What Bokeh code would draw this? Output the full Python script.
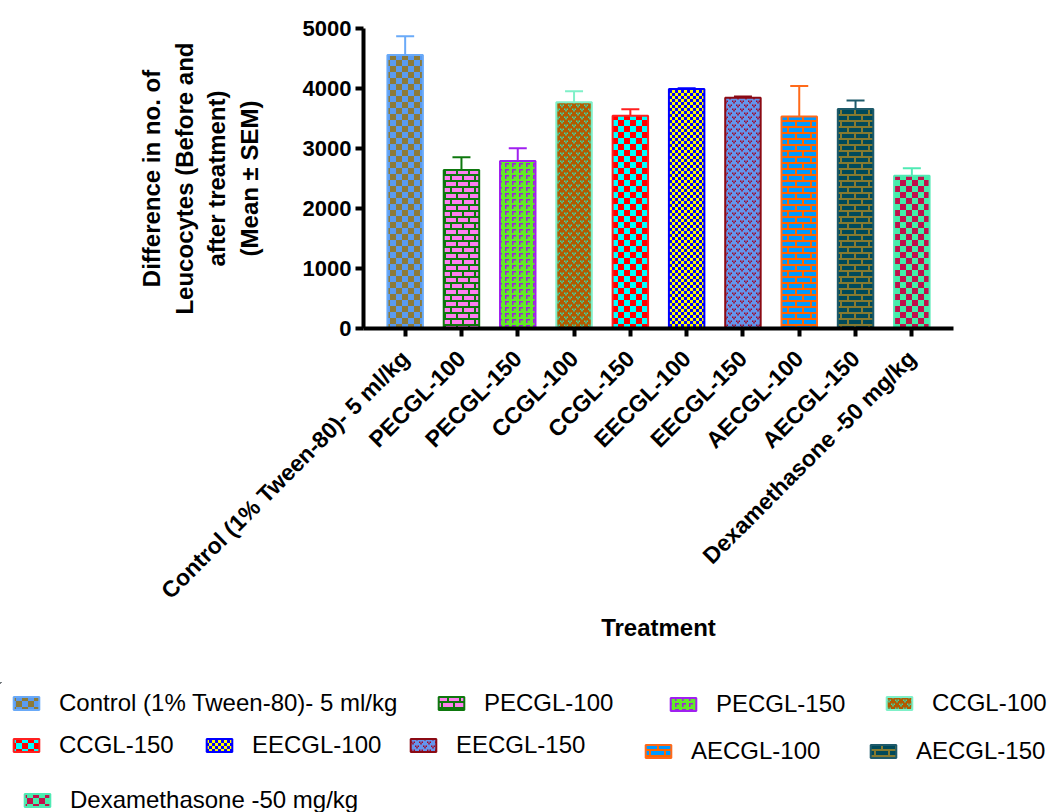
import math
from bokeh.plotting import figure
from bokeh.models import (ColumnDataSource, CanvasTexture, Legend, LegendItem,
                          Whisker, TeeHead, FactorRange, FixedTicker, Range1d)
from bokeh.embed import file_html
from bokeh.resources import INLINE

# ---------------- data ----------------
treatments = ["Control (1% Tween-80)- 5 ml/kg", "PECGL-100", "PECGL-150",
              "CCGL-100", "CCGL-150", "EECGL-100", "EECGL-150",
              "AECGL-100", "AECGL-150", "Dexamethasone -50 mg/kg"]
means = [4560, 2640, 2790, 3770, 3545, 3990, 3845, 3535, 3660, 2545]
sems = [310, 215, 215, 185, 110, 15, 20, 505, 140, 125]
y_ticks = [0, 1000, 2000, 3000, 4000, 5000]

# ---------------- styles ----------------
fill_cols = ["#5A9BF0", "#FF80F0", "#62EA28", "#B35A00", "#FF0000",
             "#0000FF", "#6495ED", "#0099FF", "#004A5A", "#44EEAA"]
hatch_cols = ["#8C7A38", "#0E780E", "#A21CE0", "#3CD8A8", "#00FFFF",
              "#FFFF00", "#A00828", "#FF6600", "#857A30", "#C0104C"]
line_cols = ["#6AAAF8", "#0E780E", "#A020F0", "#7FF0C8", "#FF2020",
             "#0000FF", "#8B0A14", "#FF6A1A", "#1E5A6A", "#50EAB4"]
patterns = ["checker", "brick", "hook", "heart", "checker",
            "checker", "heart", "brick", "brick", "checker"]
tile_sizes = ["6", "12", "7", "8", "6", "3", "8", "15", "14", "6"]
# legend placement (page pixels): glyph left and row centre
legend_gx = [10, 435, 667, 883, 10, 203, 407, 642, 867, 21]
legend_cy = [703, 703, 704, 703, 745, 745, 745, 751, 751, 800]

JS = {
    "checker": """
        const c = SIZE;
        ctx.canvas.width = 2 * c; ctx.canvas.height = 2 * c;
        ctx.fillStyle = "COLOR";
        ctx.fillRect(0, 0, c, c);
        ctx.fillRect(c, c, c, c);
    """,
    "brick": """
        const L = SIZE, rh = 6, lw = 2;
        ctx.canvas.width = L; ctx.canvas.height = 2 * rh;
        ctx.fillStyle = "COLOR";
        ctx.fillRect(0, 0, L, lw);
        ctx.fillRect(0, rh, L, lw);
        ctx.fillRect(0, 0, lw, rh);
        ctx.fillRect(Math.floor(L / 2), rh, lw, rh);
    """,
    "hook": """
        const n = SIZE;
        ctx.canvas.width = n; ctx.canvas.height = n - 1;
        ctx.fillStyle = "COLOR";
        ctx.fillRect(1, 1, 4, 1.5);
        ctx.fillRect(1, 1, 1.5, 4);
    """,
    "heart": """
        const n = SIZE;
        ctx.canvas.width = n; ctx.canvas.height = n;
        ctx.fillStyle = "COLOR";
        const m = (x, y) => {
            ctx.fillRect(x, y, 1.5, 1.5);
            ctx.fillRect(x + 2.5, y, 1.5, 1.5);
            ctx.fillRect(x + 1.25, y + 1.5, 1.5, 1.5);
        };
        m(0, 0.5);
        m(n / 2, n / 2 + 0.5);
    """,
}

def texture(i):
    code = JS[patterns[i]].replace("COLOR", hatch_cols[i]).replace("SIZE", tile_sizes[i])
    return CanvasTexture(code=code)

W = 1051
H_MAIN, H_LEG = 682, 130
frame_left, frame_top, frame_right, frame_bottom = 363, 28, 953, 328

p = figure(width=W, height=H_MAIN, output_backend="svg", toolbar_location=None,
           x_range=FactorRange(factors=treatments, range_padding=0.048),
           y_range=(0, 5000),
           min_border_left=frame_left, min_border_right=W - frame_right,
           min_border_top=frame_top, min_border_bottom=H_MAIN - frame_bottom)
p.outline_line_color = None
p.grid.visible = False

leg = figure(width=W, height=H_LEG, output_backend="svg", toolbar_location=None,
             x_range=Range1d(0, W), y_range=Range1d(H_LEG, 0),
             x_axis_type=None, y_axis_type=None,
             min_border=0, min_border_left=0, min_border_right=0,
             min_border_top=0, min_border_bottom=0)
leg.outline_line_color = None
leg.grid.visible = False

LH = 28
for i, t in enumerate(treatments):
    tex = {f"p{i}": texture(i)}
    style = dict(fill_color=fill_cols[i], line_color=line_cols[i], line_width=2,
                 hatch_pattern="pat", hatch_color=hatch_cols[i],
                 hatch_scale=12, hatch_weight=1,
                 hatch_extra=tex)
    src = ColumnDataSource(dict(x=[t], top=[means[i]], pat=[f"p{i}"]))
    p.vbar(x="x", top="top", width=0.63, source=src, **style)

    wsrc = ColumnDataSource(dict(base=[t], lower=[means[i]], upper=[means[i] + sems[i]]))
    p.add_layout(Whisker(source=wsrc, base="base", lower="lower", upper="upper",
                         dimension="height", line_color=line_cols[i], line_width=2,
                         lower_head=None,
                         upper_head=TeeHead(size=18, line_color=line_cols[i], line_width=2)))

    # legend swatch renderer, placed far outside the visible range of the legend figure
    lsrc = ColumnDataSource(dict(x=[-5000], top=[-5000], bottom=[-5001], pat=[f"p{i}"]))
    lr = leg.vbar(x="x", top="top", bottom="bottom", width=1, source=lsrc, **style)
    vx = legend_gx[i]
    vy = H_LEG - ((legend_cy[i] - H_MAIN) + LH / 2)
    lg = Legend(items=[LegendItem(label=t, renderers=[lr])],
                location=(vx, vy), orientation="horizontal",
                padding=0, margin=0, spacing=0,
                border_line_alpha=0, background_fill_alpha=0,
                glyph_width=32, glyph_height=16, label_standoff=17,
                label_text_font="Liberation Sans", label_text_font_size="24px",
                label_text_color="black", label_height=LH)
    leg.add_layout(lg, "center")

# axes
for ax in (p.xaxis[0], p.yaxis[0]):
    ax.axis_line_width = 4
    ax.axis_line_color = "black"
    ax.major_tick_line_width = 4
    ax.major_tick_line_color = "black"
    ax.major_tick_in = 0
    ax.major_tick_out = 8
    ax.minor_tick_line_color = None
    ax.major_label_text_font = "Liberation Sans"
    ax.major_label_text_font_style = "bold"
    ax.major_label_text_color = "black"
    ax.axis_label_text_font = "Liberation Sans"
    ax.axis_label_text_font_style = "bold"
    ax.axis_label_text_color = "black"
    ax.axis_label_text_font_size = "24px"

p.yaxis.ticker = FixedTicker(ticks=y_ticks)
p.yaxis.major_label_text_font_size = "22px"
p.yaxis.major_label_standoff = 4
p.yaxis.axis_label = "Difference in no. of\nLeucocytes (Before and\nafter treatment)\n(Mean ± SEM)"
p.yaxis.axis_label_standoff = 37

p.xaxis.major_label_orientation = math.pi / 4
p.xaxis.major_label_text_font_size = "23px"
p.xaxis.major_label_standoff = 18
p.xaxis.axis_label = "Treatment"
p.xaxis.axis_label_standoff = -2

open("out.html", "w").write(file_html([p, leg], INLINE))
